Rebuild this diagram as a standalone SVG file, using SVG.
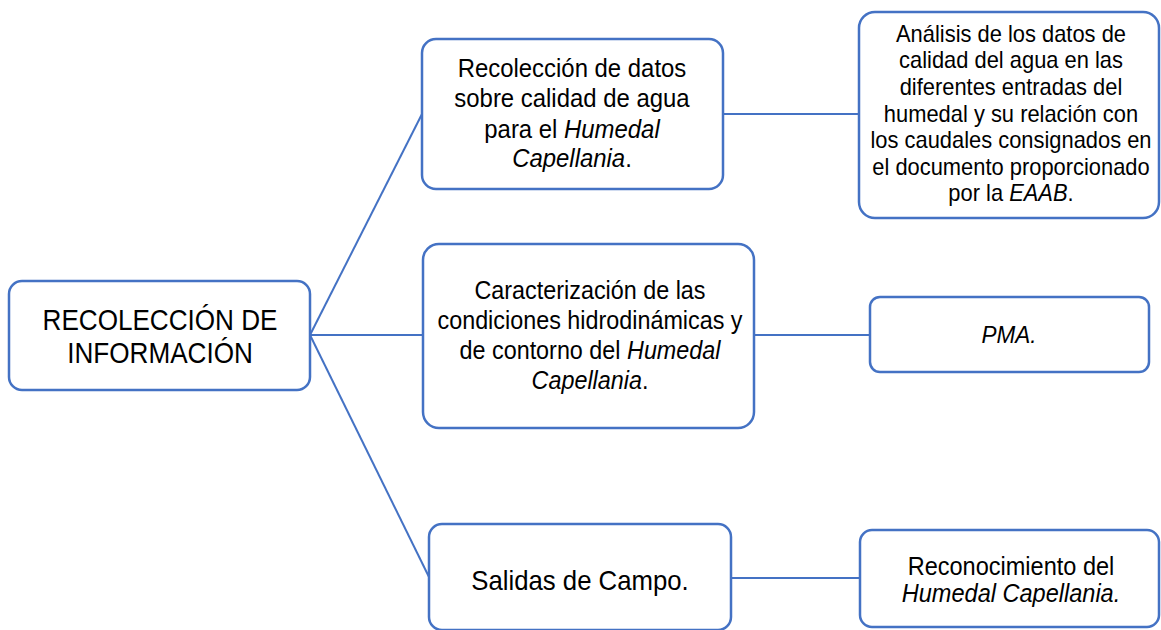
<svg xmlns="http://www.w3.org/2000/svg" width="1161" height="630" viewBox="0 0 1161 630">
<style>
.box{fill:#ffffff;stroke:#4472C4;stroke-width:2.5}
.ln{stroke:#4472C4;stroke-width:2;fill:none}
text{font-family:"Liberation Sans",Arial,sans-serif;fill:#000000;text-anchor:middle}
.i{font-style:italic}
</style>
<rect width="1161" height="630" fill="#ffffff"/>
<g id="connectors">
<line class="ln" x1="310" y1="335" x2="422" y2="114"/>
<line class="ln" x1="310" y1="335" x2="423" y2="335"/>
<line class="ln" x1="310" y1="335" x2="429" y2="577"/>
<line class="ln" x1="723" y1="114" x2="859" y2="114"/>
<line class="ln" x1="754" y1="335" x2="870" y2="335"/>
<line class="ln" x1="731" y1="578" x2="860" y2="578"/>
</g>
<g id="root">
<rect class="box" x="9" y="281" width="301" height="109" rx="13"/>
<g transform="translate(160,0) scale(0.87,1)" font-size="30">
<text x="0" y="330">RECOLECCIÓN DE</text>
<text x="0" y="363">INFORMACIÓN</text>
</g>
</g>
<g id="n1">
<rect class="box" x="422" y="39" width="301" height="150" rx="14"/>
<g transform="translate(572,0) scale(0.92,1)" font-size="26">
<text x="0" y="77">Recolección de datos</text>
<text x="0" y="107">sobre calidad de agua</text>
<text x="0" y="138">para el <tspan class="i">Humedal</tspan></text>
<text x="0" y="167"><tspan class="i">Capellania</tspan>.</text>
</g>
</g>
<g id="n1a">
<rect class="box" x="859" y="12" width="300" height="206" rx="16"/>
<g transform="translate(1011,0) scale(0.92,1)" font-size="23.8">
<text x="0" y="42">Análisis de los datos de</text>
<text x="0" y="68">calidad del agua en las</text>
<text x="0" y="95">diferentes entradas del</text>
<text x="0" y="122">humedal y su relación con</text>
<text x="0" y="148">los caudales consignados en</text>
<text x="0" y="175">el documento proporcionado</text>
<text x="0" y="201">por la <tspan class="i">EAAB</tspan>.</text>
</g>
</g>
<g id="n2">
<rect class="box" x="423" y="244" width="331" height="184" rx="16"/>
<g transform="translate(590,0) scale(0.92,1)" font-size="25.4">
<text x="0" y="299">Caracterización de las</text>
<text x="0" y="329">condiciones hidrodinámicas y</text>
<text x="0" y="359">de contorno del <tspan class="i">Humedal</tspan></text>
<text x="0" y="389"><tspan class="i">Capellania</tspan>.</text>
</g>
</g>
<g id="n2a">
<rect class="box" x="870" y="297" width="279" height="75" rx="10"/>
<g transform="translate(1009,0) scale(0.92,1)" font-size="24.5">
<text x="0" y="343" class="i">PMA.</text>
</g>
</g>
<g id="n3">
<rect class="box" x="429" y="524" width="302" height="106" rx="13"/>
<g transform="translate(580,0) scale(0.92,1)" font-size="28">
<text x="0" y="590">Salidas de Campo.</text>
</g>
</g>
<g id="n3a">
<rect class="box" x="860" y="530" width="299" height="97" rx="12"/>
<g transform="translate(1011,0) scale(0.92,1)" font-size="25.6">
<text x="0" y="575">Reconocimiento del</text>
<text x="0" y="602" class="i">Humedal Capellania.</text>
</g>
</g>
</svg>
